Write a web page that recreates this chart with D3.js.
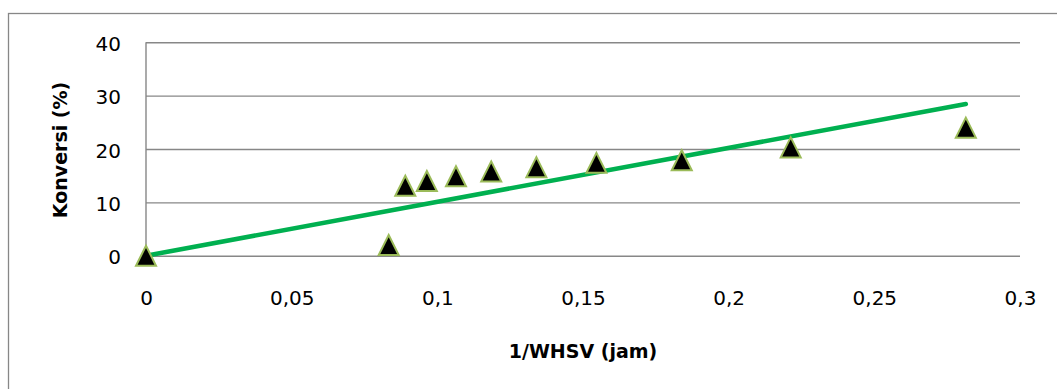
<!DOCTYPE html>
<html>
<head>
<meta charset="utf-8">
<script src="https://cdn.jsdelivr.net/npm/d3@7"></script>
<style>
  html, body { margin: 0; padding: 0; background: #fff; }
  svg { display: block; }
</style>
</head>
<body>
<svg id="chart" width="1057" height="389"></svg>
<script>
// 1/WHSV (jam) against conversion (%)
const invWhsv  = [0, 0.0833, 0.0890, 0.0964, 0.1064, 0.1185, 0.1340, 0.1546, 0.1839, 0.2213, 0.2814];
const konversi = [0, 2.0, 13.1, 14.0, 14.9, 15.8, 16.6, 17.4, 17.9, 20.3, 24.0];
const xTicks = [0, 0.05, 0.1, 0.15, 0.2, 0.25, 0.3];
const yTicks = [0, 10, 20, 30, 40];

const W = 1057, H = 389;
const plot = { left: 146, right: 1020, top: 42.3, bottom: 255.7 };
const gridColor = "#878787";
const font = "DejaVu Sans, sans-serif";

const svg = d3.select("#chart");

const x = d3.scaleLinear().domain([0, 0.3]).range([plot.left, plot.right]);
const y = d3.scaleLinear().domain([0, 40]).range([plot.bottom, plot.top]);

const idLocale = d3.formatLocale({ decimal: ",", thousands: ".", grouping: [3], currency: ["", ""] });
const fmt = idLocale.format("~g");

// chart frame (continues past the right and bottom edges)
svg.append("rect")
  .attr("x", 8.5).attr("y", 13.5)
  .attr("width", W + 10).attr("height", H + 10)
  .attr("fill", "none").attr("stroke", gridColor).attr("stroke-width", 1.3);

// horizontal gridlines
svg.append("g")
  .attr("transform", `translate(${plot.left},0)`)
  .call(d3.axisRight(y).tickValues(yTicks).tickSize(plot.right - plot.left).tickFormat(""))
  .call(g => g.select(".domain").remove())
  .call(g => g.selectAll(".tick line").attr("stroke", gridColor).attr("stroke-width", 1.4));

// vertical axis line
svg.append("line")
  .attr("x1", plot.left).attr("x2", plot.left)
  .attr("y1", plot.top).attr("y2", plot.bottom)
  .attr("stroke", gridColor).attr("stroke-width", 1.4);

// y tick labels
svg.append("g")
  .attr("transform", `translate(${plot.left},0)`)
  .call(d3.axisLeft(y).tickValues(yTicks).tickSize(0).tickPadding(25).tickFormat(d => fmt(d)))
  .call(g => g.select(".domain").remove())
  .call(g => g.selectAll("text")
    .attr("font-family", font).attr("font-size", 20).attr("fill", "#000")
    .attr("dy", "0.4em"));

// x tick labels
svg.append("g")
  .attr("transform", `translate(0,${plot.bottom})`)
  .call(d3.axisBottom(x).tickValues(xTicks).tickSize(0).tickPadding(35).tickFormat(d => fmt(d)))
  .call(g => g.select(".domain").remove())
  .call(g => g.selectAll("text")
    .attr("font-family", font).attr("font-size", 20).attr("fill", "#000")
    .attr("dy", "0.71em"));

// least-squares trend line through the origin
const slope = d3.sum(invWhsv, (v, i) => v * konversi[i]) / d3.sum(invWhsv, v => v * v);
const xMax = d3.max(invWhsv);
svg.append("line")
  .attr("x1", x(0)).attr("y1", y(0))
  .attr("x2", x(xMax)).attr("y2", y(slope * xMax))
  .attr("stroke", "#00B050").attr("stroke-width", 4.6).attr("stroke-linecap", "round");

// triangle markers
const tw = 20, th = 20;
svg.append("g")
  .selectAll("path")
  .data(invWhsv.map((v, i) => [v, konversi[i]]))
  .join("path")
  .attr("d", `M0,${-th / 2}L${tw / 2},${th / 2}L${-tw / 2},${th / 2}Z`)
  .attr("transform", d => `translate(${x(d[0])},${y(d[1])})`)
  .attr("fill", "#000")
  .attr("stroke", "#9BBB59").attr("stroke-width", 2).attr("stroke-linejoin", "miter");

// axis titles
svg.append("text")
  .attr("x", (plot.left + plot.right) / 2).attr("y", 358)
  .attr("text-anchor", "middle")
  .attr("font-family", font).attr("font-size", 19).attr("font-weight", "bold")
  .text("1/WHSV (jam)");

svg.append("text")
  .attr("transform", `translate(67,150) rotate(-90)`)
  .attr("text-anchor", "middle")
  .attr("font-family", font).attr("font-size", 19).attr("font-weight", "bold")
  .text("Konversi (%)");
</script>
</body>
</html>
